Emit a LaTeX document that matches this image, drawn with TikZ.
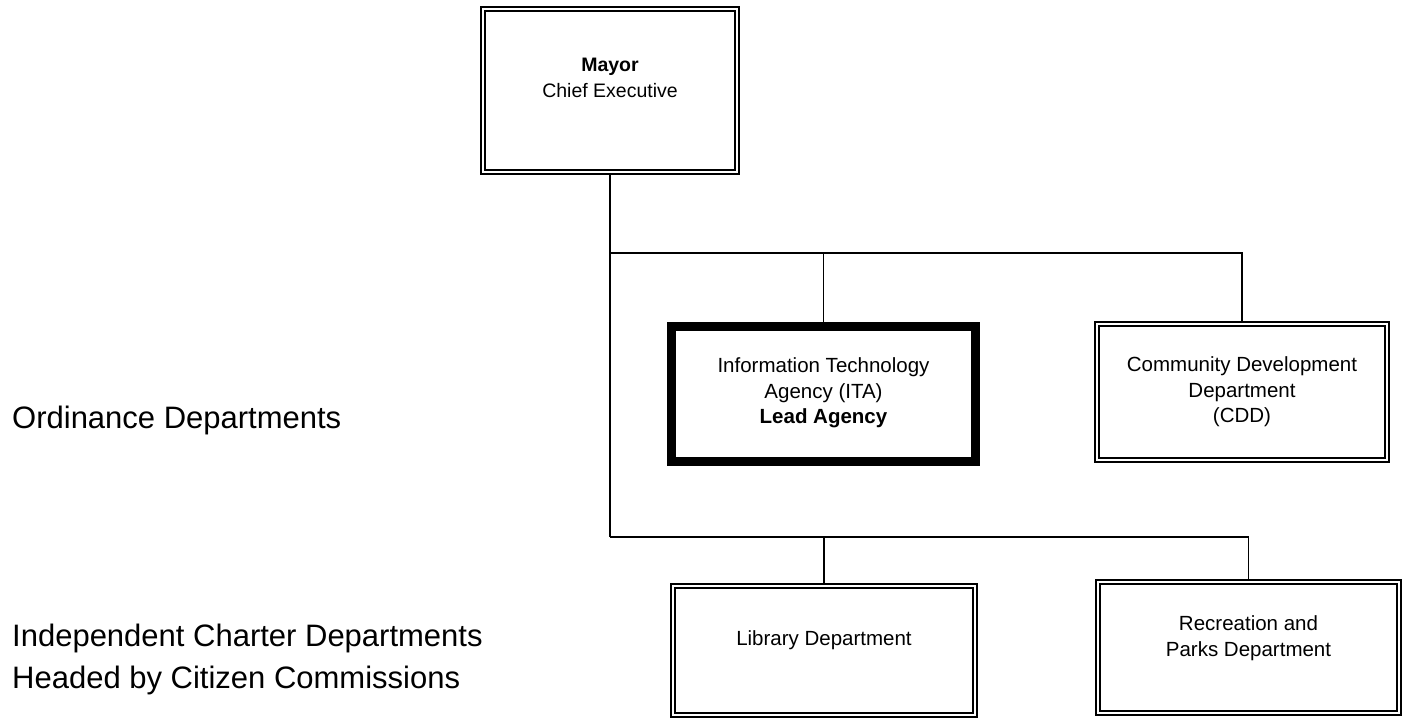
\documentclass[tikz,border=0pt]{standalone}
\usepackage{fontspec}
\setmainfont{Liberation Sans}
\begin{document}
\begin{tikzpicture}[x=1pt,y=-1pt,
  dbox/.style={draw, line width=2.2pt, inner sep=0pt,
    path picture={\draw[line width=1.2pt]
      ([shift={(4pt,-4pt)}]path picture bounding box.north west) rectangle
      ([shift={(-4pt,4pt)}]path picture bounding box.south east);}},
  thickbox/.style={draw, line width=9pt, inner sep=0pt},
  btxt/.style={align=center, font=\fontsize{20.5}{25.5}\selectfont, inner sep=0pt},
  ltxt/.style={align=left, anchor=west, font=\fontsize{31}{42}\selectfont, inner sep=0pt},
  conn/.style={line width=1.8pt},
  thinconn/.style={line width=1.3pt}]
\useasboundingbox (0,0) rectangle (1408,720);
\fill[white] (0,0) rectangle (1408,720);
% boxes (path size = outer size minus border)
\node[dbox, minimum width=258, minimum height=167] (mayor) at (610,90.5) {};
\node[btxt, font=\fontsize{19.5}{26}\selectfont] (mayort) at (610,78) {\textbf{Mayor}\\Chief Executive};
\node[thickbox, minimum width=304, minimum height=135] (ita) at (823.5,394) {};
\node[btxt] (itat) at (823.5,393) {Information Technology\\Agency (ITA)\\\textbf{Lead Agency}};
\node[dbox, minimum width=294, minimum height=140] (cdd) at (1242,392) {};
\node[btxt] (cddt) at (1242,392) {Community Development\\Department\\(CDD)};
\node[dbox, minimum width=306, minimum height=133] (lib) at (824,650.5) {};
\node[btxt] (libt) at (824,640) {Library Department};
\node[dbox, minimum width=305, minimum height=135] (rec) at (1248.5,647.5) {};
\node[btxt] (rect) at (1248.5,638) {Recreation and\\Parks Department};
% left labels
\node[ltxt] (ord) at (12,420) {Ordinance Departments};
\node[ltxt] (ind) at (12,659) {Independent Charter Departments\\Headed by Citizen Commissions};
% connectors
\coordinate (j1) at (610,253);
\coordinate (j2) at (610,537);
\draw[conn] (mayor.south) -- (j1) -- (j2);
\draw[conn] (j1) -| (cdd.north);
\draw[thinconn] (ita.north) -- (ita.north |- j1);
\draw[conn] (j2) -| (rec.north);
\draw[conn] (lib.north) -- (lib.north |- j2);
\end{tikzpicture}
\end{document}
